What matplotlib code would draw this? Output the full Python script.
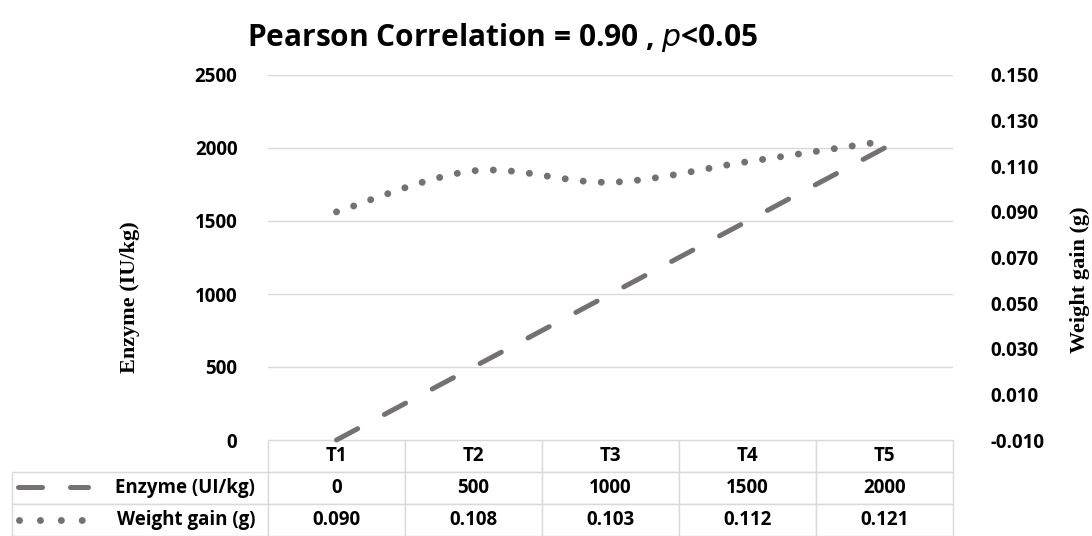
import numpy as np
import matplotlib
matplotlib.use("Agg")
import matplotlib.pyplot as plt
from matplotlib.path import Path
from matplotlib.patches import PathPatch
from matplotlib.lines import Line2D

# data
categories = ["T1", "T2", "T3", "T4", "T5"]
enzyme = [0, 500, 1000, 1500, 2000]
weight_gain = [0.090, 0.108, 0.103, 0.112, 0.121]
enzyme_labels = ["0", "500", "1000", "1500", "2000"]
weight_labels = ["0.090", "0.108", "0.103", "0.112", "0.121"]
row_names = ["Enzyme (UI/kg)", "Weight gain (g)"]
left_ticks = [0, 500, 1000, 1500, 2000, 2500]
right_ticks = [-0.010, 0.010, 0.030, 0.050, 0.070, 0.090, 0.110, 0.130, 0.150]

W, H = 1092, 536
line_col = "#767171"
grid_col = "#d9d9d9"
sans = "Open Sans"
serif = "Liberation Serif"

fig = plt.figure(figsize=(W / 100, H / 100), dpi=100)
ax_l, ax_r, ax_b, ax_t = 268, 953, 440, 75
ax = fig.add_axes([ax_l / W, 1 - ax_b / H, (ax_r - ax_l) / W, (ax_b - ax_t) / H])
ax2 = ax.twinx()

x = np.arange(len(categories))
ax.set_xlim(-0.5, len(categories) - 0.5)
ax.set_ylim(0, 2500)
ax2.set_ylim(-0.010, 0.150)

for a in (ax, ax2):
    for s in a.spines.values():
        s.set_visible(False)
    a.tick_params(length=0)
ax.set_xticks([])

ax.set_yticks(left_ticks)
ax.set_yticklabels([str(t) for t in left_ticks], fontsize=13.5, fontweight="bold",
                   family=sans)
ax.tick_params(axis="y", pad=22)
ax2.set_yticks(right_ticks)
ax2.set_yticklabels(["%.3f" % t for t in right_ticks], fontsize=13.5, fontweight="bold",
                    family=sans)
ax2.tick_params(axis="y", pad=27)

for t in left_ticks[1:]:
    ax.axhline(t, color=grid_col, lw=1, zorder=0)

# enzyme dashed line
ax.plot(x, enzyme, color=line_col, lw=3.6, dashes=(4.8, 6.05), dash_capstyle="round",
        clip_on=False, zorder=3)

# weight gain smoothed dotted line (bezier through the points)
pts = np.column_stack([x, weight_gain])
verts = [tuple(pts[0])]
codes = [Path.MOVETO]
for i in range(len(pts) - 1):
    p0 = pts[max(i - 1, 0)]
    p1 = pts[i]
    p2 = pts[i + 1]
    p3 = pts[min(i + 2, len(pts) - 1)]
    c1 = p1 + (p2 - p0) / 6
    c2 = p2 - (p3 - p1) / 6
    verts += [tuple(c1), tuple(c2), tuple(p2)]
    codes += [Path.CURVE4] * 3
patch = PathPatch(Path(verts, codes), fill=False, edgecolor=line_col, lw=5,
                  linestyle=(0, (0.01, 2.6)), capstyle="round",
                  transform=ax2.transData, clip_on=False, zorder=3)
ax2.add_patch(patch)

# axis titles
fig.text(130 / W, 1 - 297 / H, "Enzyme (IU/kg)", rotation=90, ha="center", va="center",
         family=serif, fontweight="bold", fontsize=16)
fig.text(1080 / W, 1 - 280 / H, "Weight gain (g)", rotation=90, ha="center", va="center",
         family=serif, fontweight="bold", fontsize=16)

fig.text(503 / W, 1 - 38 / H, "Pearson Correlation = 0.90 , $\\mathbf{\\it{p}}$<0.05",
         ha="center", va="center", family=sans, fontweight="bold", fontsize=21.5)

# data table under the axes
lab_w = ax_l - 12
col_w = (ax_r - ax_l) / len(categories)
cell_text = [[""] + categories,
             [row_names[0]] + enzyme_labels,
             [row_names[1]] + weight_labels]
span_w = ax_r - ax_l
tbl = ax.table(cellText=cell_text,
               colWidths=[lab_w / span_w] + [col_w / span_w] * len(categories),
               bbox=[-lab_w / span_w, -96 / 365, 1 + lab_w / span_w, 96 / 365],
               cellLoc="center")
tbl.auto_set_font_size(False)
for (r, c), cell in tbl.get_celld().items():
    cell.set_edgecolor(grid_col)
    cell.set_linewidth(1)
    cell.get_text().set_fontsize(13.5)
    cell.get_text().set_fontweight("bold")
    cell.get_text().set_family(sans)
    if c == 0:
        cell.get_text().set_ha("right")
        cell._loc = "right"
        cell.PAD = 0.05
    if r == 0 and c == 0:
        cell.set_edgecolor("none")

# legend keys in the row label cells
fig.add_artist(Line2D([18 / W, 88 / W], [1 - 487 / H] * 2, color=line_col, lw=3.6,
                      dashes=(4.8, 5.6), dash_capstyle="round"))
fig.add_artist(Line2D([19 / W, 82 / W], [1 - 520 / H] * 2, color=line_col, lw=5,
                      linestyle=(0, (0.01, 3.0)), dash_capstyle="round"))

fig.savefig("out.png", dpi=100)
